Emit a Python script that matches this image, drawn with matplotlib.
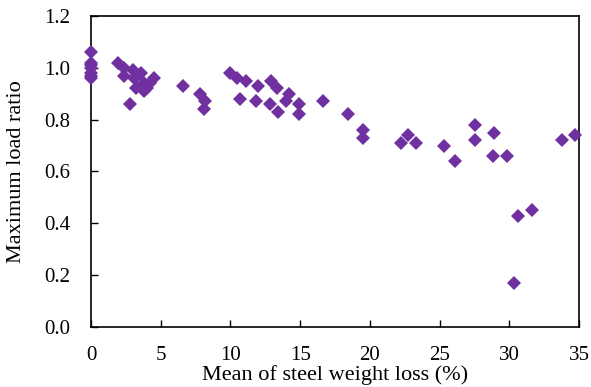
import matplotlib
matplotlib.use("Agg")
import matplotlib.pyplot as plt

# mean steel weight loss (%) and maximum load ratio
weight_loss = [0, 0, 0, 0, 0, 0, 0,
               1.9, 2.4, 2.4, 2.8, 3.0, 3.1, 3.2, 3.3, 3.6, 3.8, 3.8, 4.0, 4.2, 4.5,
               6.6, 7.8, 8.2, 8.1,
               10.0, 10.5, 11.1, 10.7, 12.0, 11.8, 12.9, 13.3, 12.8, 13.4,
               14.2, 14.0, 14.9, 14.9, 16.6,
               18.4, 19.5, 19.5, 22.2, 22.7, 23.3, 25.3, 26.1,
               27.5, 27.5, 28.9, 28.8, 29.8, 30.6, 31.6, 30.3, 33.8, 34.7]
load_ratio = [1.06, 1.02, 1.01, 1.00, 0.98, 0.97, 0.96,
              1.02, 1.00, 0.97, 0.86, 0.99, 0.96, 0.92, 0.97, 0.98, 0.91, 0.94, 0.92, 0.94, 0.96,
              0.93, 0.90, 0.87, 0.84,
              0.98, 0.96, 0.95, 0.88, 0.93, 0.87, 0.95, 0.92, 0.86, 0.83,
              0.90, 0.87, 0.86, 0.82, 0.87,
              0.82, 0.76, 0.73, 0.71, 0.74, 0.71, 0.70, 0.64,
              0.78, 0.72, 0.75, 0.66, 0.66, 0.43, 0.45, 0.17, 0.72, 0.74]

plt.rcParams['font.family'] = ['Liberation Serif', 'DejaVu Serif']
plt.rcParams['font.size'] = 15

fig = plt.figure(figsize=(5.91, 3.87), dpi=100)
ax = fig.add_axes([0.154, 0.155, 0.826, 0.804])

ax.plot(weight_loss, load_ratio, 'D', color='#7030A0', markersize=6.8,
        markeredgewidth=0, linestyle='none', clip_on=False, zorder=3)

ax.set_xlim(0, 35)
ax.set_ylim(0, 1.2)
ax.set_xticks(range(0, 36, 5))
ax.set_yticks([0.0, 0.2, 0.4, 0.6, 0.8, 1.0, 1.2])
ax.set_yticklabels(['0.0', '0.2', '0.4', '0.6', '0.8', '1.0', '1.2'])
ax.tick_params(direction='in', length=5, width=1, pad=14)
ax.tick_params(axis='y', pad=15)
for s in ax.spines.values():
    s.set_linewidth(1.2)
ax.set_xlabel('Mean of steel weight loss (%)', fontsize=16, labelpad=0)
ax.set_ylabel('Maximum load ratio', fontsize=16, labelpad=13)

fig.savefig('out.png', dpi=100)
